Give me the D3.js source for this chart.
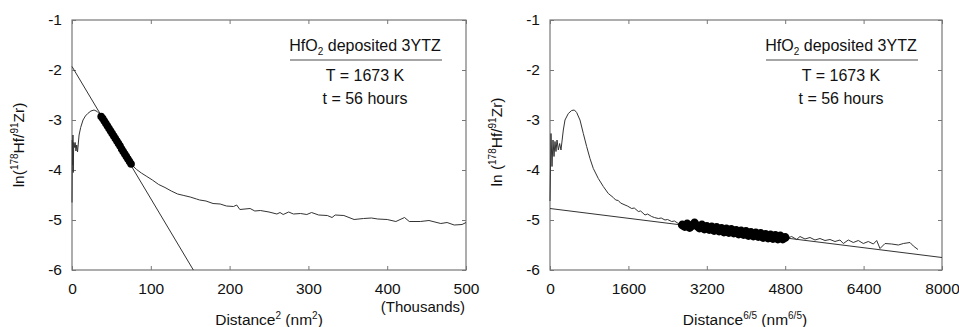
<!DOCTYPE html>
<html>
<head>
<meta charset="utf-8">
<script src="https://cdn.jsdelivr.net/npm/d3@7"></script>
<style>
  body { margin: 0; background: #fff; }
  svg text { font-family: "Liberation Sans", Arial, Helvetica, sans-serif; fill: #111; }
</style>
</head>
<body>
<script>
// left panel: x = distance^2 in thousands of nm^2
const leftX = [0, 0.4, 0.8, 1.2, 1.6, 2.2, 3, 4, 5, 6, 7, 9, 11, 14, 17, 20, 24, 28, 32, 35,
  78, 82, 88, 95, 102, 110, 118, 126, 134, 142, 150, 158, 162, 170, 179, 188, 196, 205, 209, 213,
  226, 232, 239, 250, 260, 264, 268, 275, 281, 290, 298, 304, 313, 324, 330, 334, 345, 358, 370,
  380, 388, 400, 411, 422, 428, 442, 453, 468, 476, 485, 495, 500]
const leftY = [-4.65, -3.4, -3.9, -3.3, -4.05, -3.45, -3.55, -3.45, -3.62, -3.5, -3.64, -3.3, -3.15, -3.0, -2.92, -2.87, -2.82, -2.8, -2.83, -2.88,
  -3.93, -3.99, -4.06, -4.13, -4.2, -4.29, -4.35, -4.42, -4.48, -4.51, -4.54, -4.58, -4.6, -4.62, -4.67, -4.68, -4.72, -4.73, -4.7, -4.79,
  -4.77, -4.82, -4.81, -4.84, -4.88, -4.85, -4.89, -4.84, -4.88, -4.87, -4.89, -4.85, -4.9, -4.91, -4.95, -4.9, -4.91, -4.99, -4.97,
  -4.96, -4.98, -4.99, -5.03, -4.95, -5.03, -5.03, -5.01, -5.07, -5.05, -5.1, -5.09, -5.05]
const leftDotX = [37, 39, 41, 43, 45, 47, 49, 51, 53, 55, 57, 59, 61, 63, 65, 67, 69, 71, 73, 75]
const leftDotY = [-2.93, -2.97, -3.02, -3.07, -3.12, -3.17, -3.22, -3.27, -3.32, -3.37, -3.42, -3.47, -3.52, -3.58, -3.63, -3.68, -3.73, -3.78, -3.83, -3.88]
const leftFitX = [0, 154]
const leftFitY = [-1.93, -6]
const leftTicksX = [0, 100, 200, 300, 400, 500]

// right panel: x = distance^(6/5) in nm^(6/5)
const rightX = [0, 20, 41, 61, 82, 102, 122, 143, 170, 197, 224, 272, 306, 374, 442, 497, 544, 612, 680, 748,
  816, 884, 986, 1088, 1190, 1292, 1340, 1394, 1440, 1531, 1580, 1667, 1720, 1803, 1850, 1939, 1990, 2075, 2130,
  2211, 2270, 2347, 2400, 2483, 2540, 2619, 2680,
  4830, 4932, 5034, 5102, 5204, 5306, 5408, 5510, 5612, 5714, 5816, 5918, 5986, 6088, 6190, 6292, 6394, 6496,
  6599, 6667, 6735, 6837, 6973, 7109, 7211, 7347, 7415, 7510]
const rightY = [-4.62, -3.27, -3.93, -3.4, -3.73, -3.43, -3.63, -3.4, -3.6, -3.47, -3.6, -3.2, -3.0, -2.87, -2.81, -2.8, -2.85, -3.0, -3.27, -3.53,
  -3.77, -3.97, -4.17, -4.33, -4.47, -4.55, -4.6, -4.61, -4.66, -4.7, -4.72, -4.77, -4.76, -4.83, -4.82, -4.9, -4.88, -4.93, -4.95,
  -4.97, -4.96, -5.0, -4.99, -5.03, -5.02, -5.07, -5.09,
  -5.37, -5.33, -5.39, -5.33, -5.38, -5.35, -5.4, -5.37, -5.41, -5.39, -5.43, -5.4, -5.47, -5.4, -5.45, -5.41, -5.47, -5.43,
  -5.48, -5.41, -5.57, -5.47, -5.48, -5.5, -5.47, -5.45, -5.52, -5.59]
const rightDotX = [2700, 2750, 2800, 2850, 2900, 2950, 3000, 3050, 3100, 3150, 3200, 3250, 3300, 3350, 3400, 3450, 3500, 3550, 3600, 3650,
  3700, 3750, 3800, 3850, 3900, 3950, 4000, 4050, 4100, 4150, 4200, 4250, 4300, 4350, 4400, 4450, 4500, 4550, 4600, 4650, 4700, 4750, 4800]
const rightDotY = [-5.1, -5.13, -5.08, -5.15, -5.11, -5.06, -5.12, -5.16, -5.1, -5.18, -5.13, -5.19, -5.14, -5.21, -5.15, -5.22, -5.17, -5.24, -5.18, -5.25,
  -5.19, -5.26, -5.21, -5.28, -5.22, -5.29, -5.23, -5.31, -5.25, -5.32, -5.26, -5.33, -5.27, -5.35, -5.29, -5.36, -5.3, -5.37, -5.31, -5.38, -5.32, -5.38, -5.35]
const rightFitX = [0, 8000]
const rightFitY = [-4.77, -5.75]
const rightTicksX = [0, 1600, 3200, 4800, 6400, 8000]

const ticksY = [-1, -2, -3, -4, -5, -6]
const noteLines = ["T = 1673 K", "t = 56 hours"]

const W = 959, H = 327
const svg = d3.select('body').append('svg').attr('width', W).attr('height', H)

const zip = (xs, ys) => xs.map((x, i) => [x, ys[i]])

function panel(p) {
  const x = d3.scaleLinear().domain(p.xDomain).range([p.x0, p.x1])
  const y = d3.scaleLinear().domain([-6, -1]).range([270, 20])
  const g = svg.append('g')

  // inward ticks on all four sides, plain hyphen minus like the original
  g.append('g').attr('transform', 'translate(0,270)')
    .call(d3.axisBottom(x).tickValues(p.ticksX).tickSize(-4).tickPadding(13).tickFormat(d => String(d)))
  g.append('g').attr('transform', 'translate(0,20)')
    .call(d3.axisTop(x).tickValues(p.ticksX).tickSize(-4).tickFormat(''))
  g.append('g').attr('transform', `translate(${p.x0},0)`)
    .call(d3.axisLeft(y).tickValues(ticksY).tickSize(-4).tickPadding(10).tickFormat(d => String(d)))
  g.append('g').attr('transform', `translate(${p.x1},0)`)
    .call(d3.axisRight(y).tickValues(ticksY).tickSize(-4).tickFormat(''))
  g.selectAll('.domain').remove()
  g.selectAll('.tick line').attr('stroke', '#777')
  g.selectAll('.tick text').attr('font-size', 15.5).attr('fill', '#111')
    .style('font-family', '"Liberation Sans", Arial, sans-serif')

  g.append('rect').attr('x', p.x0).attr('y', 20)
    .attr('width', p.x1 - p.x0).attr('height', 250)
    .attr('fill', 'none').attr('stroke', '#777').attr('stroke-width', 1.2)

  const line = d3.line().x(d => x(d[0])).y(d => y(d[1]))
  g.append('path').datum(zip(p.fitX, p.fitY)).attr('d', line)
    .attr('fill', 'none').attr('stroke', '#333').attr('stroke-width', 1)
  g.append('path').datum(zip(p.curveX, p.curveY)).attr('d', line)
    .attr('fill', 'none').attr('stroke', '#333').attr('stroke-width', 1)
  g.selectAll('circle.dot').data(zip(p.dotX, p.dotY)).enter().append('circle')
    .attr('class', 'dot')
    .attr('cx', d => x(d[0])).attr('cy', d => y(d[1])).attr('r', p.dotR)
    .attr('fill', '#000')

  // annotation box
  const cx = p.x1 - 101
  const t1 = g.append('text').attr('x', cx).attr('y', 51).attr('text-anchor', 'middle').attr('font-size', 16)
  t1.append('tspan').text('HfO')
  t1.append('tspan').attr('font-size', 10).attr('dy', 4).text('2')
  t1.append('tspan').attr('dy', -4).text(' deposited 3YTZ')
  g.append('line').attr('x1', p.x1 - 176).attr('x2', p.x1 - 24).attr('y1', 60).attr('y2', 60)
    .attr('stroke', '#888').attr('stroke-width', 1.5)
  g.selectAll('text.note').data(noteLines).enter().append('text')
    .attr('class', 'note').attr('x', cx).attr('y', (d, i) => 81 + i * 23)
    .attr('text-anchor', 'middle').attr('font-size', 16).text(d => d)

  // y title
  const yt = g.append('text').attr('transform', `translate(${p.x0 - 48},${p.yTitleY}) rotate(-90)`)
    .attr('text-anchor', 'middle').attr('font-size', 15.5)
  yt.append('tspan').text(p.lnPrefix)
  yt.append('tspan').attr('font-size', 10).attr('dy', -6).text('178')
  yt.append('tspan').attr('dy', 6).text('Hf/')
  yt.append('tspan').attr('font-size', 10).attr('dy', -6).text('91')
  yt.append('tspan').attr('dy', 6).text('Zr)')

  // x title
  const xt = g.append('text').attr('x', p.xTitleX).attr('y', 325)
    .attr('text-anchor', 'middle').attr('font-size', 15.5)
  xt.append('tspan').text('Distance')
  xt.append('tspan').attr('font-size', 10).attr('dy', -6).text(p.pow)
  xt.append('tspan').attr('dy', 6).text(' (nm')
  xt.append('tspan').attr('font-size', 10).attr('dy', -6).text(p.pow)
  xt.append('tspan').attr('dy', 6).text(')')
  return g
}

const left = panel({
  x0: 72, x1: 466, xDomain: [0, 500], ticksX: leftTicksX,
  curveX: leftX, curveY: leftY, dotX: leftDotX, dotY: leftDotY, fitX: leftFitX, fitY: leftFitY,
  dotR: 3.8, lnPrefix: 'ln(', pow: '2', xTitleX: 269, yTitleY: 145
})
left.append('text').attr('x', 465).attr('y', 311.5).attr('text-anchor', 'end')
  .attr('font-size', 15).text('(Thousands)')

panel({
  x0: 550, x1: 942, xDomain: [0, 8000], ticksX: rightTicksX,
  curveX: rightX, curveY: rightY, dotX: rightDotX, dotY: rightDotY, fitX: rightFitX, fitY: rightFitY,
  dotR: 4.4, lnPrefix: 'ln (', pow: '6/5', xTitleX: 745, yTitleY: 142
})
</script>
</body>
</html>
